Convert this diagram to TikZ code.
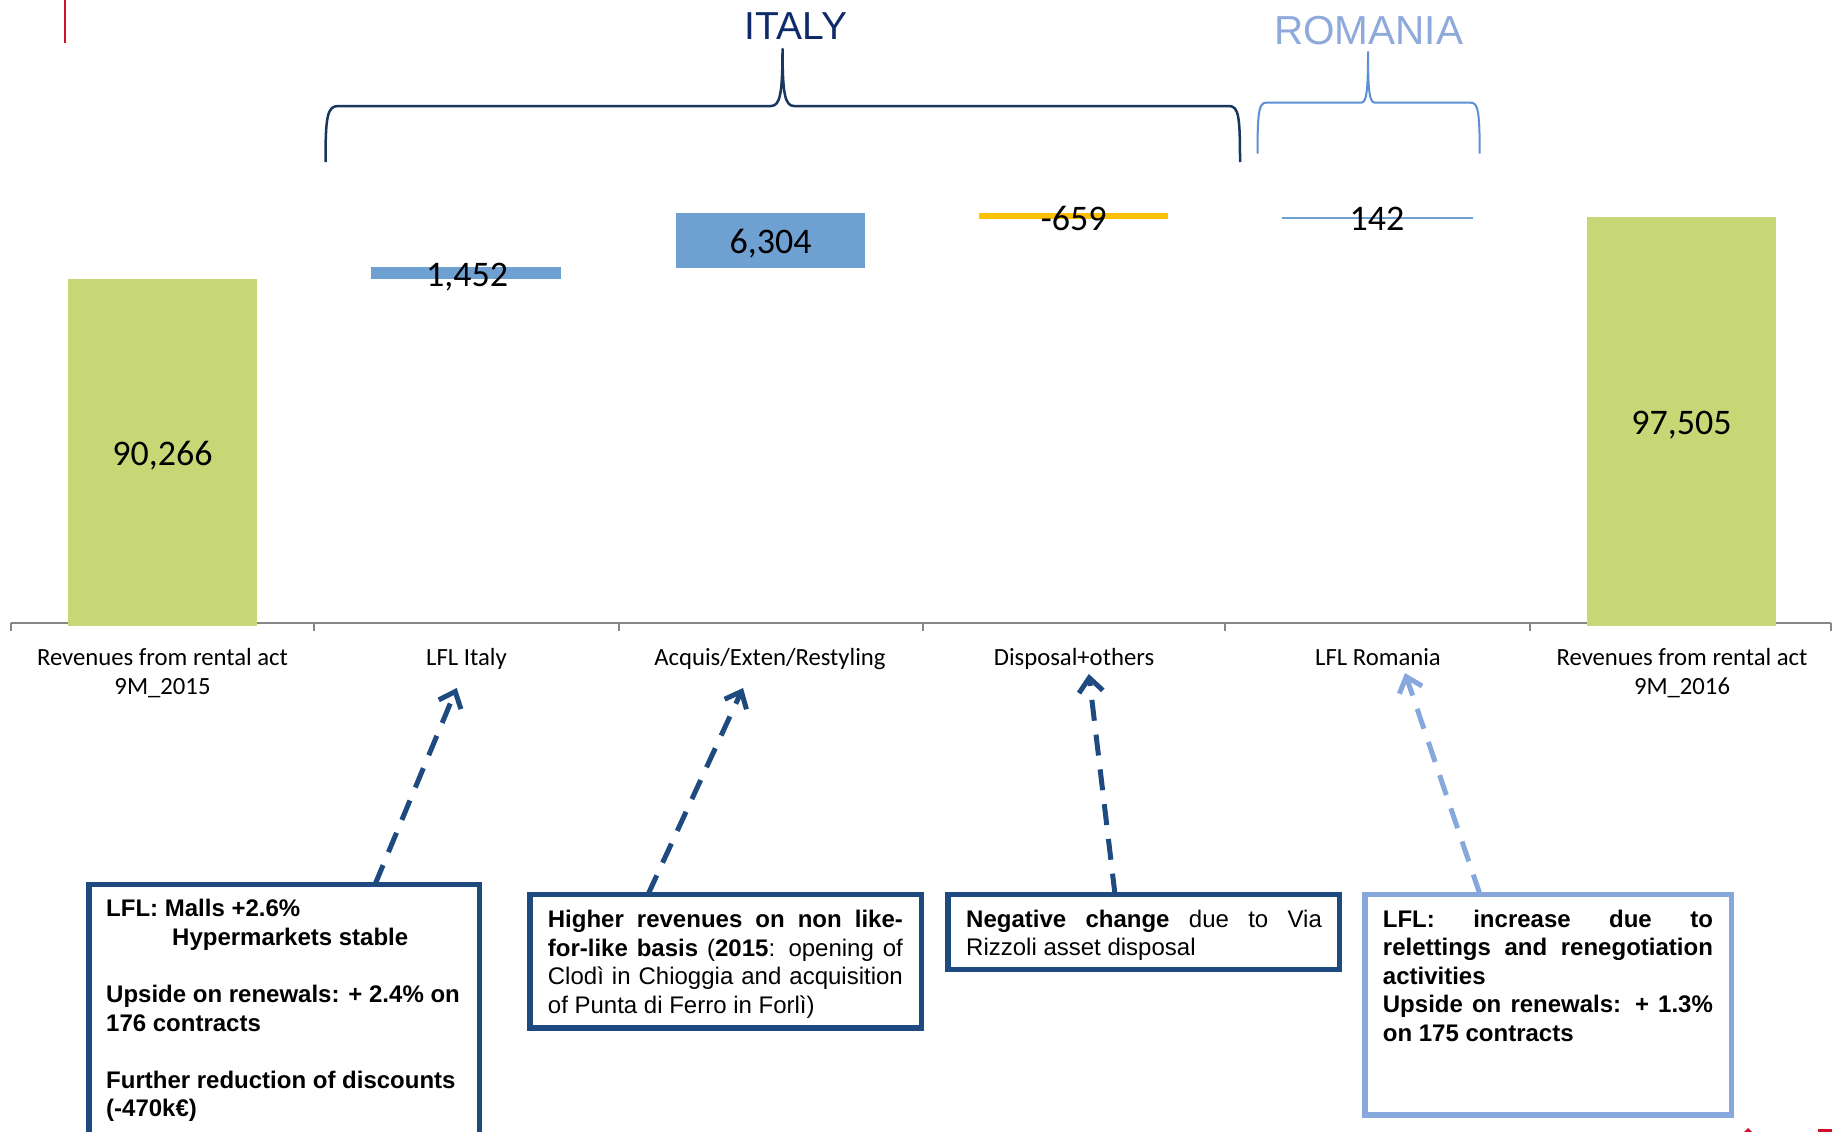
\documentclass[tikz,border=0pt]{standalone}
\usepackage{fontspec}
\setmainfont{Liberation Sans}
\newfontfamily\carlito{Carlito}
\usetikzlibrary{arrows.meta}
\definecolor{grn}{HTML}{C8D775}
\definecolor{barblue}{HTML}{6FA0D2}
\definecolor{orng}{HTML}{FFC000}
\definecolor{navy}{HTML}{0E2A6B}
\definecolor{bracenavy}{HTML}{17375E}
\definecolor{romtxt}{HTML}{8EAADB}
\definecolor{rombrace}{HTML}{5B8FD6}
\definecolor{boxblue}{HTML}{1F4A80}
\definecolor{lightblue}{HTML}{86A8DC}
\definecolor{axisgray}{HTML}{868686}
\definecolor{logored}{HTML}{D0102A}
\newcommand{\JLine}[2]{\hbox to #1{#2}}
\newcommand{\NLine}[1]{\hbox{#1}}
\begin{document}
\begin{tikzpicture}[x=1pt,y=-1pt,
  catlabel/.style={font=\carlito\fontsize{24.7}{29}\selectfont, align=center, inner sep=0, anchor=base},
  datalabel/.style={font=\carlito\fontsize{36}{40}\selectfont, inner sep=0, anchor=base},
  notebox/.style={draw=boxblue, line width=5.5pt, inner sep=0, outer sep=0, anchor=north west},
  notetext/.style={font=\fontsize{24}{28.6}\selectfont, inner sep=0, anchor=base west},
  callout/.style={draw=boxblue, line width=5pt, dash pattern=on 21pt off 14pt, -{Straight Barb[length=14pt,width=24pt]}},
  axisline/.style={axisgray, line width=2pt},
]
\useasboundingbox (0,0) rectangle (1839,1132);
\clip (0,0) rectangle (1839,1132);

% axis
\draw[axisline] (10.6,622.7) -- (1831,622.7);
\foreach \x in {10.6,314,619,923,1225,1530,1831} \draw[axisline] (\x,622.7) -- (\x,631);

% bars
\fill[grn] (68,279) rectangle (257,626);
\fill[barblue] (371,267) rectangle (561,279);
\fill[barblue] (676,213) rectangle (864.5,268);
\fill[orng] (979,212.7) rectangle (1168,219);
\fill[barblue] (1282,217) rectangle (1473,219);
\fill[grn] (1587,217) rectangle (1776,626);

% data labels
\node[datalabel] (v1) at (162.5,465.7) {90,266};
\node[datalabel] (v2) at (467,286) {1,452};
\node[datalabel] (v3) at (770.5,253) {6,304};
\node[datalabel] (v4) at (1073.7,230) {-659};
\node[datalabel] (v5) at (1377,230.7) {142};
\node[datalabel] (v6) at (1681.5,434) {97,505};

% category labels (base anchor = last line)
\node[catlabel] (c1) at (162.5,694) {Revenues from rental act\\9M\_2015};
\node[catlabel] (c2) at (466.5,665) {LFL Italy};
\node[catlabel] (c3) at (770,665) {Acquis/Exten/Restyling};
\node[catlabel] (c4) at (1074,665) {Disposal+others};
\node[catlabel] (c5) at (1378,665) {LFL Romania};
\node[catlabel] (c6) at (1682,694) {Revenues from rental act\\9M\_2016};

% titles and braces
\node[font=\fontsize{39}{44}\selectfont, text=navy, anchor=base, inner sep=0] (italy) at (796,39.3) {ITALY};
\node[font=\fontsize{40.5}{46}\selectfont, text=romtxt, anchor=base, inner sep=0] (romania) at (1368.5,45) {ROMANIA};
\draw[bracenavy, line width=2.5pt, line join=round]
  (325.5,162) .. controls (325.5,118) and (327,106) .. (338,106) -- (771,106)
  .. controls (780,106) and (782.5,94) .. (782.5,49)
  .. controls (782.5,94) and (785,106) .. (794,106) -- (1229,106)
  .. controls (1239,106) and (1240,118) .. (1240,162);
\draw[rombrace, line width=2pt, line join=round]
  (1257.5,153.7) .. controls (1257.5,112) and (1259,102.7) .. (1266,102.7) -- (1361,102.7)
  .. controls (1366.5,102.7) and (1368,92) .. (1368,52)
  .. controls (1368,92) and (1369.5,102.7) .. (1375,102.7) -- (1471,102.7)
  .. controls (1478,102.7) and (1479.7,112) .. (1479.7,153.7);

% decorations
\draw[logored, line width=1.5pt] (65,0) -- (65,43);
\fill[logored] (1744,1132) -- (1748,1128) -- (1752,1132) -- cycle;
\fill[logored] (1818,1129) rectangle (1832,1132);

% note boxes
\node[notebox, minimum width=390.5pt, minimum height=300pt] (b1) at (88.75,884.45) {};
\node[notebox, minimum width=391.5pt, minimum height=133.5pt] (b2) at (529.75,894.45) {};
\node[notebox, minimum width=391.5pt, minimum height=75.1pt] (b3) at (947.75,894.45) {};
\node[notebox, draw=lightblue, minimum width=366.5pt, minimum height=220.5pt] (b4) at (1364.75,894.45) {};

\node[notetext] (t1) at (106,916.7) {\vtop{\bfseries
  \NLine{LFL: Malls +2.6\%}
  \NLine{\hspace*{66pt}Hypermarkets stable}
  \NLine{}
  \NLine{Upside on renewals: + 2.4\% on}
  \NLine{176 contracts}
  \NLine{}
  \NLine{Further reduction of discounts}
  \NLine{(-470k€)}}};
\node[notetext] (t2) at (547.7,927.7) {\vtop{
  \JLine{355pt}{\bfseries Higher revenues on non like-}
  \JLine{355pt}{\textbf{for-like basis} (\textbf{2015}: opening of}
  \JLine{355pt}{Clodì in Chioggia and acquisition}
  \NLine{of Punta di Ferro in Forlì)}}};
\node[notetext] (t3) at (966,927.2) {\vtop{
  \JLine{355.7pt}{\textbf{Negative change} due to Via}
  \NLine{Rizzoli asset disposal}}};
\node[notetext] (t4) at (1382.7,927) {\vtop{\bfseries
  \JLine{330pt}{LFL: increase due to}
  \JLine{330pt}{relettings and renegotiation}
  \NLine{activities}
  \JLine{330pt}{Upside on renewals: + 1.3\%}
  \NLine{on 175 contracts}}};

% callout arrows
\coordinate (a1s) at (375,884.5);
\coordinate (a1e) at (456.7,688);
\coordinate (a2s) at (648,894.5);
\coordinate (a2e) at (743,688);
\coordinate (a3s) at (1115,894.5);
\coordinate (a3e) at (1088.8,674);
\coordinate (a4s) at (1480,894.5);
\coordinate (a4e) at (1405,673);
\draw[callout] (a1s) -- (a1e);
\draw[callout] (a2s) -- (a2e);
\draw[callout] (a3s) -- (a3e);
\draw[callout, draw=lightblue] (a4s) -- (a4e);
\end{tikzpicture}
\end{document}
